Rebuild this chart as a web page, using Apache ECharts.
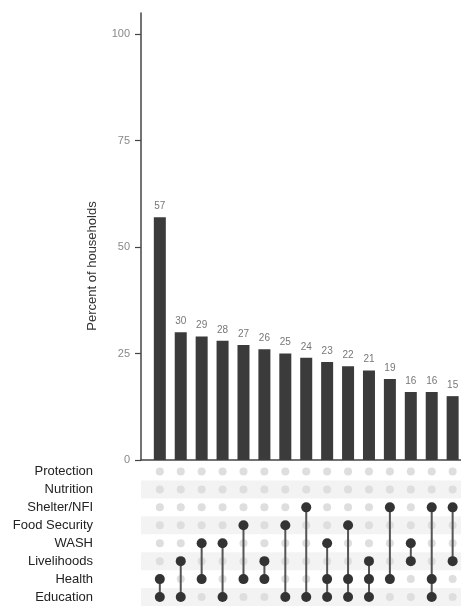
<!DOCTYPE html>
<html>
<head>
<meta charset="utf-8">
<script src="https://cdn.jsdelivr.net/npm/echarts@6/dist/echarts.min.js"></script>
<style>html,body{margin:0;padding:0;background:#fff}#c{width:461px;height:606px}</style>
</head>
<body>
<div id="c"></div>
<script>
const sets = ['Protection','Nutrition','Shelter/NFI','Food Security','WASH','Livelihoods','Health','Education'];
const values = [57,30,29,28,27,26,25,24,23,22,21,19,16,16,15];
const combos = [
  ['Health','Education'],
  ['Livelihoods','Education'],
  ['WASH','Health'],
  ['WASH','Education'],
  ['Food Security','Health'],
  ['Livelihoods','Health'],
  ['Food Security','Education'],
  ['Shelter/NFI','Education'],
  ['WASH','Health','Education'],
  ['Food Security','Health','Education'],
  ['Livelihoods','Health','Education'],
  ['Shelter/NFI','Health'],
  ['WASH','Livelihoods'],
  ['Shelter/NFI','Health','Education'],
  ['Shelter/NFI','Livelihoods']
];
const yTicks = [0,25,50,75,100];
const yTitle = 'Percent of households';

const barData = values.map((v,i)=>[i,v]);
const activeDots = [], inactiveDots = [];
combos.forEach((c,i)=>{
  sets.forEach((s,j)=>{ (c.includes(s)?activeDots:inactiveDots).push([i,j]); });
});
const linkData = combos.map((c,i)=>{
  const idx = c.map(s=>sets.indexOf(s));
  return [i, Math.min(...idx), Math.max(...idx)];
});

const chart = echarts.init(document.getElementById('c'), null, {renderer:'canvas'});
const font = 'Liberation Sans, Arial, sans-serif';
chart.setOption({
  animation:false,
  textStyle:{fontFamily:font},
  grid:[
    {left:141,right:0,top:13,height:447},
    {left:141,right:0,top:462.5,height:146.7}
  ],
  xAxis:[
    {gridIndex:0,type:'value',min:-0.9,max:14.4,
     axisLine:{show:true,onZero:false,lineStyle:{color:'#444',width:1.5}},
     axisTick:{show:false},axisLabel:{show:false},splitLine:{show:false}},
    {gridIndex:1,type:'value',min:-0.9,max:14.4,show:false,splitLine:{show:false}}
  ],
  yAxis:[
    {gridIndex:0,type:'value',min:0,max:105,interval:25,
     axisLine:{show:true,onZero:false,lineStyle:{color:'#444',width:1.5}},
     axisTick:{show:true,length:6,customValues:yTicks,lineStyle:{color:'#444',width:1.2}},
     axisLabel:{customValues:yTicks,margin:11,color:'#888',fontSize:11,fontFamily:font},
     splitLine:{show:false}},
    {gridIndex:1,type:'category',data:sets,inverse:true,
     axisLine:{show:false},axisTick:{show:false},
     axisLabel:{margin:48,color:'#222',fontSize:13,fontFamily:font},
     splitArea:{show:true,areaStyle:{color:['rgba(255,255,255,0)','#f3f3f3']}},
     splitLine:{show:false}}
  ],
  graphic:[{type:'text',x:92,y:266,rotation:Math.PI/2,
    style:{text:yTitle,align:'center',verticalAlign:'middle',fill:'#333',fontSize:13,fontFamily:font}}],
  series:[
    {type:'bar',xAxisIndex:0,yAxisIndex:0,data:barData,barWidth:12,
     itemStyle:{color:'#3b3b3b'},
     label:{show:true,position:'top',distance:6,color:'#777',fontSize:10,fontFamily:font,
       formatter:p=>p.value[1]}},
    {type:'scatter',xAxisIndex:1,yAxisIndex:1,data:inactiveDots,z:2,
     symbolSize:8,itemStyle:{color:'#dedede',opacity:1}},
    {type:'custom',xAxisIndex:1,yAxisIndex:1,data:linkData,z:3,
     renderItem:(params,api)=>{
       const p1 = api.coord([api.value(0),api.value(1)]);
       const p2 = api.coord([api.value(0),api.value(2)]);
       return {type:'line',shape:{x1:p1[0],y1:p1[1],x2:p2[0],y2:p2[1]},
         style:{stroke:'#555',lineWidth:2}};
     }},
    {type:'scatter',xAxisIndex:1,yAxisIndex:1,data:activeDots,z:4,
     symbolSize:10,itemStyle:{color:'#333',opacity:1}}
  ]
});
</script>
</body>
</html>
